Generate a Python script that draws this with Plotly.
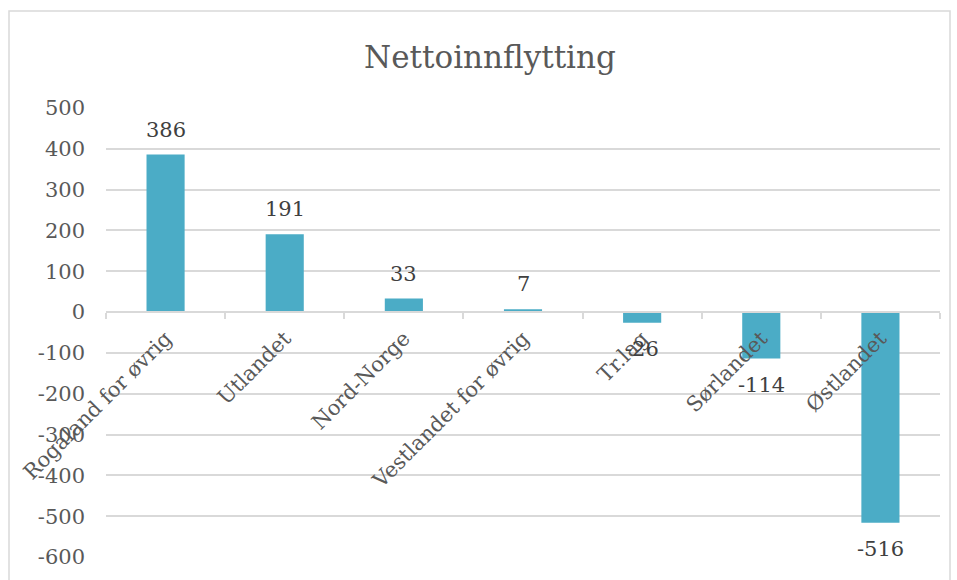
import plotly.graph_objects as go

categories = ["Rogaland for øvrig", "Utlandet", "Nord-Norge", "Vestlandet for øvrig",
              "Tr.lag", "Sørlandet", "Østlandet"]
values = [386, 191, 33, 7, -26, -114, -516]
y_ticks = [500, 400, 300, 200, 100, 0, -100, -200, -300, -400, -500, -600]

FONT = "DejaVu Serif"
BAR = "#4bacc6"
GRID = "#d9d9d9"
TXT = "#595959"

fig = go.Figure()
fig.add_trace(go.Bar(
    x=categories, y=values,
    marker=dict(color=BAR, line=dict(width=0)),
    cliponaxis=False,
))

for c, v in zip(categories, values):
    fig.add_annotation(x=c, y=v, text=str(v), showarrow=False,
                       xanchor="center", yanchor="middle",
                       yshift=25 if v >= 0 else -26,
                       font=dict(family=FONT, size=21, color="#404040"))

y_lo, y_hi = -600, 500
fig.update_layout(
    width=957, height=580,
    margin=dict(l=106, r=17, t=108, b=23),
    paper_bgcolor="white", plot_bgcolor="white",
    bargap=0.68,
    showlegend=False,
    title=dict(text="Nettoinnflytting", x=0.512, xanchor="center",
               y=1 - 57 / 580, yanchor="middle", yref="container",
               font=dict(family=FONT, size=31, color=TXT)),
    xaxis=dict(
        type="category", anchor="free", position=(0 - y_lo) / (y_hi - y_lo),
        showline=True, linecolor=GRID, linewidth=1.5,
        ticks="outside", tickson="boundaries", ticklen=6, tickcolor=GRID, tickwidth=1.5,
        tickangle=-45, showgrid=False, ticklabelstandoff=5,
        tickfont=dict(family=FONT, size=21, color=TXT),
    ),
    yaxis=dict(
        range=[y_lo, y_hi], tickvals=y_ticks, ticktext=[str(v) for v in y_ticks],
        showgrid=True, gridcolor=GRID, gridwidth=1.5, zeroline=False,
        showline=False, ticks="", ticklabelstandoff=20,
        tickfont=dict(family=FONT, size=21, color=TXT),
    ),
    shapes=[dict(type="rect", xref="paper", yref="paper",
                 x0=-97 / 834, x1=(950 - 106) / 834,
                 y0=-0.2, y1=1 + (108 - 11) / 449,
                 line=dict(color=GRID, width=1.5), fillcolor="rgba(0,0,0,0)",
                 layer="below")],
)

fig.write_html("out.html")
